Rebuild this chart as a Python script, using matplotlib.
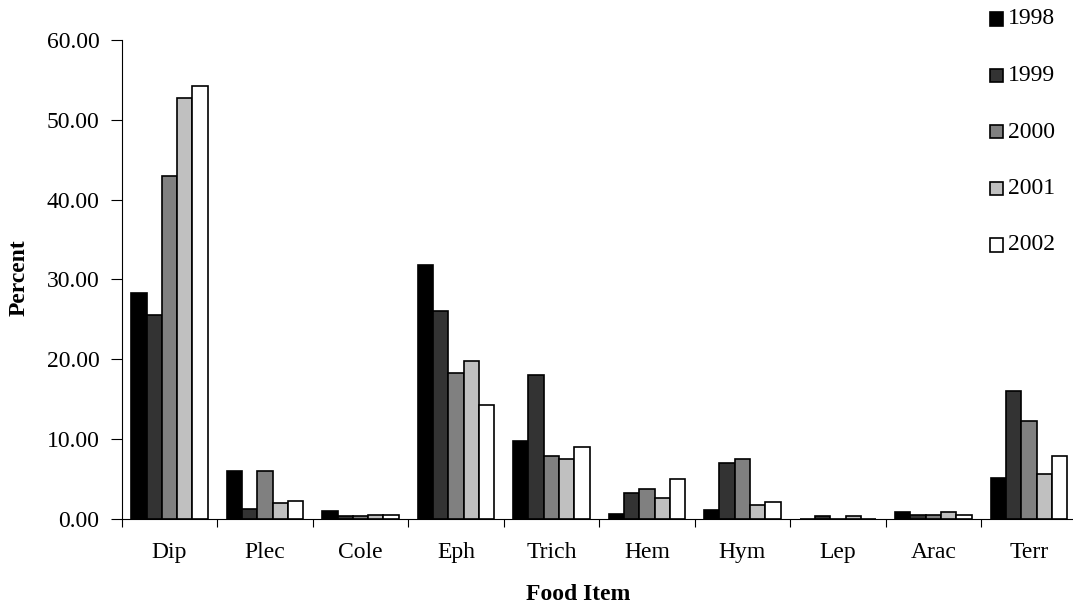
import numpy as np
import matplotlib
matplotlib.use('Agg')
import matplotlib.pyplot as plt
from matplotlib.patches import Rectangle

# -------------------------------------------------------------------
# Data
# -------------------------------------------------------------------
items = ['Dip', 'Plec', 'Cole', 'Eph', 'Trich', 'Hem', 'Hym', 'Lep', 'Arac', 'Terr']
years = ['1998', '1999', '2000', '2001', '2002']

pct_1998 = [28.3, 6.0, 1.0, 31.8, 9.8, 0.55, 1.1, 0.0, 0.8, 5.05]
pct_1999 = [25.5, 1.2, 0.3, 26.1, 18.0, 3.2, 7.0, 0.3, 0.45, 16.0]
pct_2000 = [43.0, 6.0, 0.3, 18.3, 7.8, 3.75, 7.5, 0.0, 0.45, 12.2]
pct_2001 = [52.8, 2.0, 0.5, 19.8, 7.5, 2.55, 1.75, 0.3, 0.8, 5.55]
pct_2002 = [54.3, 2.2, 0.5, 14.3, 9.0, 5.0, 2.05, 0.0, 0.5, 7.8]

series = [pct_1998, pct_1999, pct_2000, pct_2001, pct_2002]
colors = ['#000000', '#333333', '#808080', '#c0c0c0', '#ffffff']

plt.rcParams['font.family'] = ['Liberation Serif', 'DejaVu Serif']
FS = 17

# -------------------------------------------------------------------
# Plot
# -------------------------------------------------------------------
fig = plt.figure(figsize=(10.73, 6.08), dpi=100)
ax = fig.add_axes([0.1134, 0.1469, 0.890, 0.7871])

x = np.arange(len(items)) + 0.5
bw = 0.16
for i, (vals, col) in enumerate(zip(series, colors)):
    ax.bar(x + (i - 2) * bw, vals, width=bw, color=col,
           edgecolor='black', linewidth=1.2, zorder=3)

ax.set_xlim(0, len(items))
ax.set_ylim(0, 60)
ax.set_yticks(np.arange(0, 61, 10))
ax.set_yticklabels([f'{v:.2f}' for v in np.arange(0, 61, 10)])

# category boundaries get the tick marks, centres get the labels
ax.set_xticks(np.arange(0, len(items) + 1))
ax.set_xticklabels([])
ax.set_xticks(x, items, minor=True)
ax.tick_params(axis='x', which='major', direction='out', length=6, width=0.8)
ax.tick_params(axis='x', which='minor', length=0, pad=17, labelsize=FS)
ax.tick_params(axis='y', direction='out', length=8, width=0.8, pad=8, labelsize=FS)

for s in ['top', 'right']:
    ax.spines[s].set_visible(False)
for s in ['left', 'bottom']:
    ax.spines[s].set_linewidth(0.8)

# axis titles
fig.text(19 / 1073, 1 - 278 / 608, 'Percent', fontsize=FS, fontweight='bold',
         rotation=90, ha='center', va='center')
fig.text(578 / 1073, 1 - 594 / 608, 'Food Item', fontsize=FS, fontweight='bold',
         ha='center', va='center')

# legend: stacked entries along the right edge
for k, (yr, col) in enumerate(zip(years, colors)):
    yc = 1 - (19 + k * 56.5) / 608
    fig.patches.append(Rectangle((990 / 1073, yc - 6.5 / 608), 13 / 1073, 13 / 608,
                                 facecolor=col, edgecolor='black', linewidth=1.2,
                                 transform=fig.transFigure, figure=fig))
    fig.text(1008 / 1073, yc, yr, fontsize=FS, va='center', ha='left')

fig.savefig('out.png', dpi=100, facecolor='white')
